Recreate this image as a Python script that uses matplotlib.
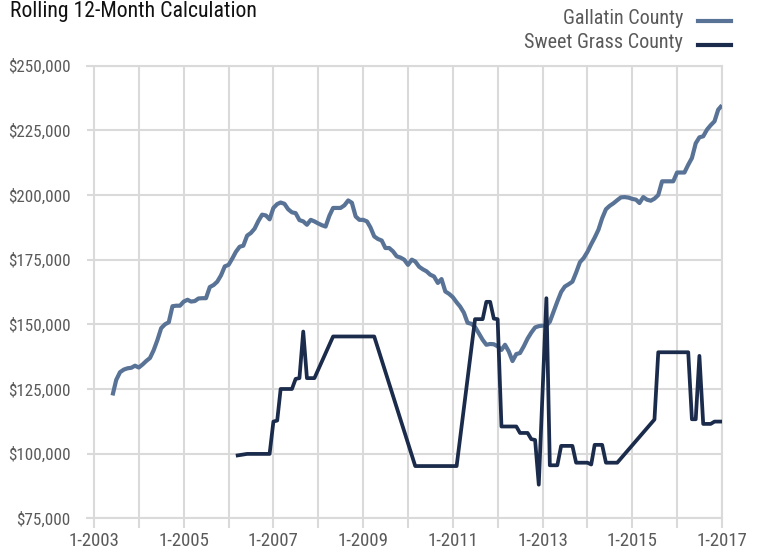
import matplotlib
matplotlib.use("Agg")
import matplotlib.pyplot as plt
import matplotlib.dates as mdates
import matplotlib.ticker as mticker
from matplotlib import font_manager as fm
import pandas as pd
import datetime as dt

# ---------------- data ----------------
gallatin_start = "2003-06-01"
gallatin_values = [
    122.5, 128.5, 131.5, 132.5, 133.0, 133.2, 134.0, 133.3, 134.5, 135.8,
    137.0, 140.0, 144.0, 148.5, 150.0, 150.8, 157.0, 157.2, 157.2, 158.8,
    159.5, 158.8, 159.0, 160.0, 160.1, 160.1, 164.4, 165.2, 166.5, 169.0,
    172.4, 173.0, 175.5, 178.0, 180.0, 180.4, 184.3, 185.3, 187.0, 190.0,
    192.4, 192.1, 190.6, 195.0, 196.5, 197.1, 196.6, 194.5, 193.3, 193.0,
    190.3, 189.8, 188.5, 190.4, 189.8, 189.0, 188.3, 187.8, 192.0, 195.0,
    195.0, 195.0, 196.0, 197.9, 197.0, 191.7, 190.4, 190.4, 189.8, 187.5,
    184.0, 183.0, 182.4, 179.5, 179.5, 178.2, 176.3, 175.8, 175.0, 173.0,
    175.0, 174.3, 172.3, 171.3, 170.5, 169.2, 168.5, 166.0, 167.5, 162.7,
    161.8, 160.5, 158.5, 156.9, 154.5, 150.6, 150.2, 149.0, 146.5, 144.0,
    142.1, 142.4, 142.3, 141.5, 140.1, 142.1, 139.5, 135.8, 138.5, 138.9,
    141.5, 144.5, 146.8, 148.8, 149.3, 149.5, 149.5, 151.0, 155.0, 158.8,
    162.5, 164.6, 165.5, 166.5, 170.0, 174.0, 175.6, 178.0, 181.0, 183.5,
    186.6, 191.0, 194.5, 195.8, 196.8, 198.0, 199.1, 199.2, 199.0, 198.5,
    198.2, 196.9, 199.2, 198.2, 197.8, 198.6, 200.0, 205.3, 205.3, 205.3,
    205.3, 208.7, 208.7, 208.7, 211.7, 214.3, 220.0, 222.3, 222.7, 225.3,
    227.0, 228.5, 233.0, 234.7,
]

sweet_months = [
    "2006-03", "2006-06", "2006-12", "2007-01", "2007-02", "2007-03", "2007-06",
    "2007-07", "2007-08", "2007-09", "2007-10", "2007-12", "2008-05", "2009-04",
    "2010-03", "2011-02", "2011-07", "2011-09", "2011-10", "2011-11", "2011-12",
    "2012-01", "2012-02", "2012-06", "2012-07", "2012-09", "2012-10", "2012-11",
    "2012-12", "2013-02", "2013-03", "2013-05", "2013-06", "2013-09", "2013-10",
    "2014-01", "2014-02", "2014-03", "2014-05", "2014-06", "2014-09", "2015-07",
    "2015-08", "2016-04", "2016-05", "2016-06", "2016-07", "2016-08", "2016-10",
    "2016-11", "2017-01",
]
sweet_values = [
    99.2, 99.9, 99.9, 112.4, 112.8, 125.0, 125.0,
    128.9, 129.2, 147.2, 129.2, 129.2, 145.3, 145.3,
    95.2, 95.2, 152.0, 152.0, 158.7, 158.7, 152.2,
    152.0, 110.5, 110.5, 108.0, 108.0, 105.6, 105.3,
    88.0, 160.1, 95.5, 95.5, 103.0, 103.0, 96.5,
    96.5, 95.8, 103.4, 103.4, 96.5, 96.5, 113.2,
    139.2, 139.2, 113.3, 113.3, 137.8, 111.5, 111.5,
    112.4, 112.4,
]

series_names = ["Gallatin County", "Sweet Grass County"]
title_text = "Rolling 12-Month Calculation"
y_ticks = [75000, 100000, 125000, 150000, 175000, 200000, 225000, 250000]
x_years = list(range(2003, 2018))


# ---------------- font: pick a condensed sans if one is installed ----------------
def pick_condensed():
    fl = fm.fontManager.ttflist

    def regular(f):
        w = f.weight if isinstance(f.weight, int) else {"normal": 400, "regular": 400}.get(str(f.weight), 0)
        low = f.fname.lower()
        return f.style == "normal" and w == 400 and "bold" not in low and "italic" not in low \
            and "oblique" not in low and "light" not in low and "medium" not in low

    tests = [
        lambda f: "roboto condensed" in f.name.lower(),
        lambda f: "liberation sans narrow" in f.name.lower(),
        lambda f: "robotocondensed" in f.fname.lower(),
        lambda f: f.name == "Noto Sans" and "condensed" in str(f.stretch) and "extra" not in str(f.stretch)
                  and "ultra" not in str(f.stretch),
        lambda f: "dejavu" in f.name.lower() and "condensed" in f.fname.lower() and "mono" not in f.fname.lower(),
        lambda f: "narrow" in f.name.lower() or "condensed" in f.name.lower(),
        lambda f: f.name == "Liberation Sans",
    ]
    for t in tests:
        for f in fl:
            try:
                if t(f) and regular(f):
                    return f.fname
            except Exception:
                pass
    return None


_fpath = pick_condensed()


def fp(size):
    if _fpath:
        return fm.FontProperties(fname=_fpath, size=size)
    return fm.FontProperties(family="DejaVu Sans", size=size)


# ---------------- style ----------------
C_GAL = "#587396"
C_SWG = "#1b2b4b"
C_GRID = "#dadada"
C_TXT = "#5a5a5a"

W, H = 759, 552
fig = plt.figure(figsize=(W / 100, H / 100), dpi=100)
left, right, top, bottom = 87, 722, 65.7, 518.3
ax = fig.add_axes([left / W, 1 - bottom / H, (right - left) / W, (bottom - top) / H])

g_dates = pd.date_range(gallatin_start, periods=len(gallatin_values), freq="MS")
s_dates = pd.to_datetime(sweet_months)

ax.plot(g_dates, [v * 1000 for v in gallatin_values], color=C_GAL, lw=3.0,
        solid_joinstyle="round", solid_capstyle="butt", zorder=3)
ax.plot(s_dates, [v * 1000 for v in sweet_values], color=C_SWG, lw=2.7,
        solid_joinstyle="round", solid_capstyle="butt", zorder=4)

ax.set_ylim(y_ticks[0], y_ticks[-1])
ax.set_yticks(y_ticks)
ax.yaxis.set_major_formatter(mticker.FuncFormatter(lambda v, p: f"${v:,.0f}"))

x0 = mdates.date2num(dt.datetime(2003, 1, 1))
x1 = mdates.date2num(dt.datetime(2017, 1, 1))
month = (x1 - x0) / 168.0
ax.set_xlim(x0 - 1.87 * month, x1)
ax.set_xticks([dt.datetime(y, 1, 1) for y in x_years])
ax.set_xticklabels([f"1-{y}" if y % 2 == 1 else "" for y in x_years])

ax.grid(True, color=C_GRID, lw=1.5, zorder=0)
ax.set_axisbelow(True)
ax.spines["left"].set_visible(False)
for s in ["top", "bottom", "right"]:
    ax.spines[s].set_color(C_GRID)
    ax.spines[s].set_linewidth(1.5)

ax.tick_params(axis="x", length=7, width=1.5, color=C_GRID, labelcolor=C_TXT, pad=3)
ax.tick_params(axis="y", length=0, labelcolor=C_TXT, pad=12)
for lab in ax.get_xticklabels():
    lab.set_fontproperties(fp(13.5))
for lab in ax.get_yticklabels():
    lab.set_fontproperties(fp(12.3))

# title
fig.text(10 / W, 1 - 12 / H, title_text, ha="left", va="center",
         fontproperties=fp(15.7), color="#111111")

# legend
leg_y = [19, 43]
for name, col, yy in zip(series_names, [C_GAL, C_SWG], leg_y):
    fig.text(683 / W, 1 - yy / H, name, ha="right", va="center",
             fontproperties=fp(14.5), color=C_TXT)
    fig.add_artist(plt.Line2D([698 / W, 731 / W], [1 - (yy + 1.5) / H] * 2,
                              color=col, lw=3, transform=fig.transFigure))

fig.savefig("out.png", dpi=100)
